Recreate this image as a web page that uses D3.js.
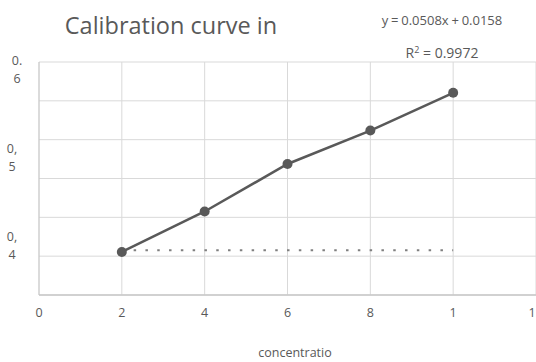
<!DOCTYPE html>
<html>
<head>
<meta charset="utf-8">
<script src="https://cdn.jsdelivr.net/npm/d3@7"></script>
<style>
  body { margin: 0; background: #fff; }
  text { font-family: "Open Sans", sans-serif; fill: #595959; }
</style>
</head>
<body>
<svg class="cc" width="536" height="362"></svg>
<script>
// data
const concentration = [2, 4, 6, 8, 10]
const absorbance = [0.393, 0.439, 0.493, 0.531, 0.574]
const flatX = [2, 10]
const flatY = [0.395, 0.395]
const xTicks = [0, 2, 4, 6, 8, 10, 12]
const xTickText = ['0', '2', '4', '6', '8', '1', '1']
const yTicks = [0.4, 0.5, 0.6]
const yTickText = [['0,', '4'], ['0,', '5'], ['0.', '6']]

const svg = d3.select('.cc')
const margin = { top: 62, right: 0, bottom: 67, left: 39 }
const width = +svg.attr('width')
const height = +svg.attr('height')

const xscale = d3.scaleLinear().domain([0, 12])
    .range([margin.left, width - margin.right])
const yscale = d3.scaleLinear().domain([0.344, 0.609])
    .range([height - margin.bottom, margin.top])

// horizontal gridlines, six equal steps like the picture
const yd = yscale.domain()
const yGrid = d3.range(7).map(i => yd[0] + i * (yd[1] - yd[0]) / 6)

svg.append('g').selectAll('line').data(yGrid)
    .enter().append('line')
    .attr('x1', margin.left).attr('x2', width)
    .attr('y1', d => yscale(d)).attr('y2', d => yscale(d))
    .attr('stroke', '#d9d9d9').attr('stroke-width', 1)

svg.append('g').selectAll('line').data(xTicks.slice(1))
    .enter().append('line')
    .attr('x1', d => xscale(d)).attr('x2', d => xscale(d))
    .attr('y1', yscale(yd[1])).attr('y2', yscale(yd[0]))
    .attr('stroke', '#d9d9d9').attr('stroke-width', 1)

// axis lines
svg.append('line')
    .attr('x1', margin.left).attr('x2', margin.left)
    .attr('y1', yscale(yd[1])).attr('y2', yscale(yd[0]))
    .attr('stroke', '#c8c8c8').attr('stroke-width', 1.3)
svg.append('line')
    .attr('x1', margin.left).attr('x2', width)
    .attr('y1', yscale(yd[0])).attr('y2', yscale(yd[0]))
    .attr('stroke', '#c8c8c8').attr('stroke-width', 1.3)

// x tick labels
svg.append('g').selectAll('text').data(xTicks)
    .enter().append('text')
    .attr('x', (d, i) => xscale(d) - (i == xTicks.length - 1 ? 4 : 0))
    .attr('y', yscale(yd[0]) + 22)
    .attr('text-anchor', 'middle')
    .style('font-size', '12.5px')
    .text((d, i) => xTickText[i])

// y tick labels wrap onto two lines
const yl = svg.append('g').selectAll('text').data(yTicks)
    .enter().append('text')
    .attr('text-anchor', 'middle')
    .style('font-size', '12.5px')
yl.each(function (d, i) {
    const t = d3.select(this)
    const cx = i == 2 ? 17 : 12
    t.append('tspan').attr('x', cx).attr('y', yscale(d) - 5).text(yTickText[i][0])
    t.append('tspan').attr('x', cx).attr('y', yscale(d) + 13).text(yTickText[i][1])
})

// dotted flat series
const line = d3.line().x(d => xscale(d[0])).y(d => yscale(d[1]))
svg.append('path')
    .attr('d', line(flatX.map((x, i) => [x, flatY[i]])))
    .attr('fill', 'none').attr('stroke', '#7f7f7f')
    .attr('stroke-width', 2).attr('stroke-dasharray', '2.5,9.3')

// main series
const pts = concentration.map((x, i) => [x, absorbance[i]])
svg.append('path')
    .attr('d', line(pts))
    .attr('fill', 'none').attr('stroke', '#595959')
    .attr('stroke-width', 2.5)
svg.append('g').selectAll('circle').data(pts)
    .enter().append('circle')
    .attr('cx', d => xscale(d[0]))
    .attr('cy', d => yscale(d[1]))
    .attr('r', 5)
    .attr('fill', '#595959')

// titles
svg.append('text')
    .attr('x', 171).attr('y', 34)
    .attr('text-anchor', 'middle')
    .style('font-size', '23.5px')
    .text('Calibration curve in')
svg.append('text')
    .attr('x', 442).attr('y', 25)
    .attr('text-anchor', 'middle')
    .style('font-size', '13px')
    .style('word-spacing', '-0.6px')
    .text('y = 0.0508x + 0.0158')
const r2 = svg.append('text')
    .attr('x', 442).attr('y', 58)
    .attr('text-anchor', 'middle')
    .style('font-size', '14px')
r2.append('tspan').text('R')
r2.append('tspan').attr('dy', -5).style('font-size', '9px').text('2')
r2.append('tspan').attr('dy', 5).text(' = 0.9972')
svg.append('text')
    .attr('x', 295).attr('y', 357)
    .attr('text-anchor', 'middle')
    .style('font-size', '12.5px')
    .text('concentratio')
</script>
</body>
</html>
